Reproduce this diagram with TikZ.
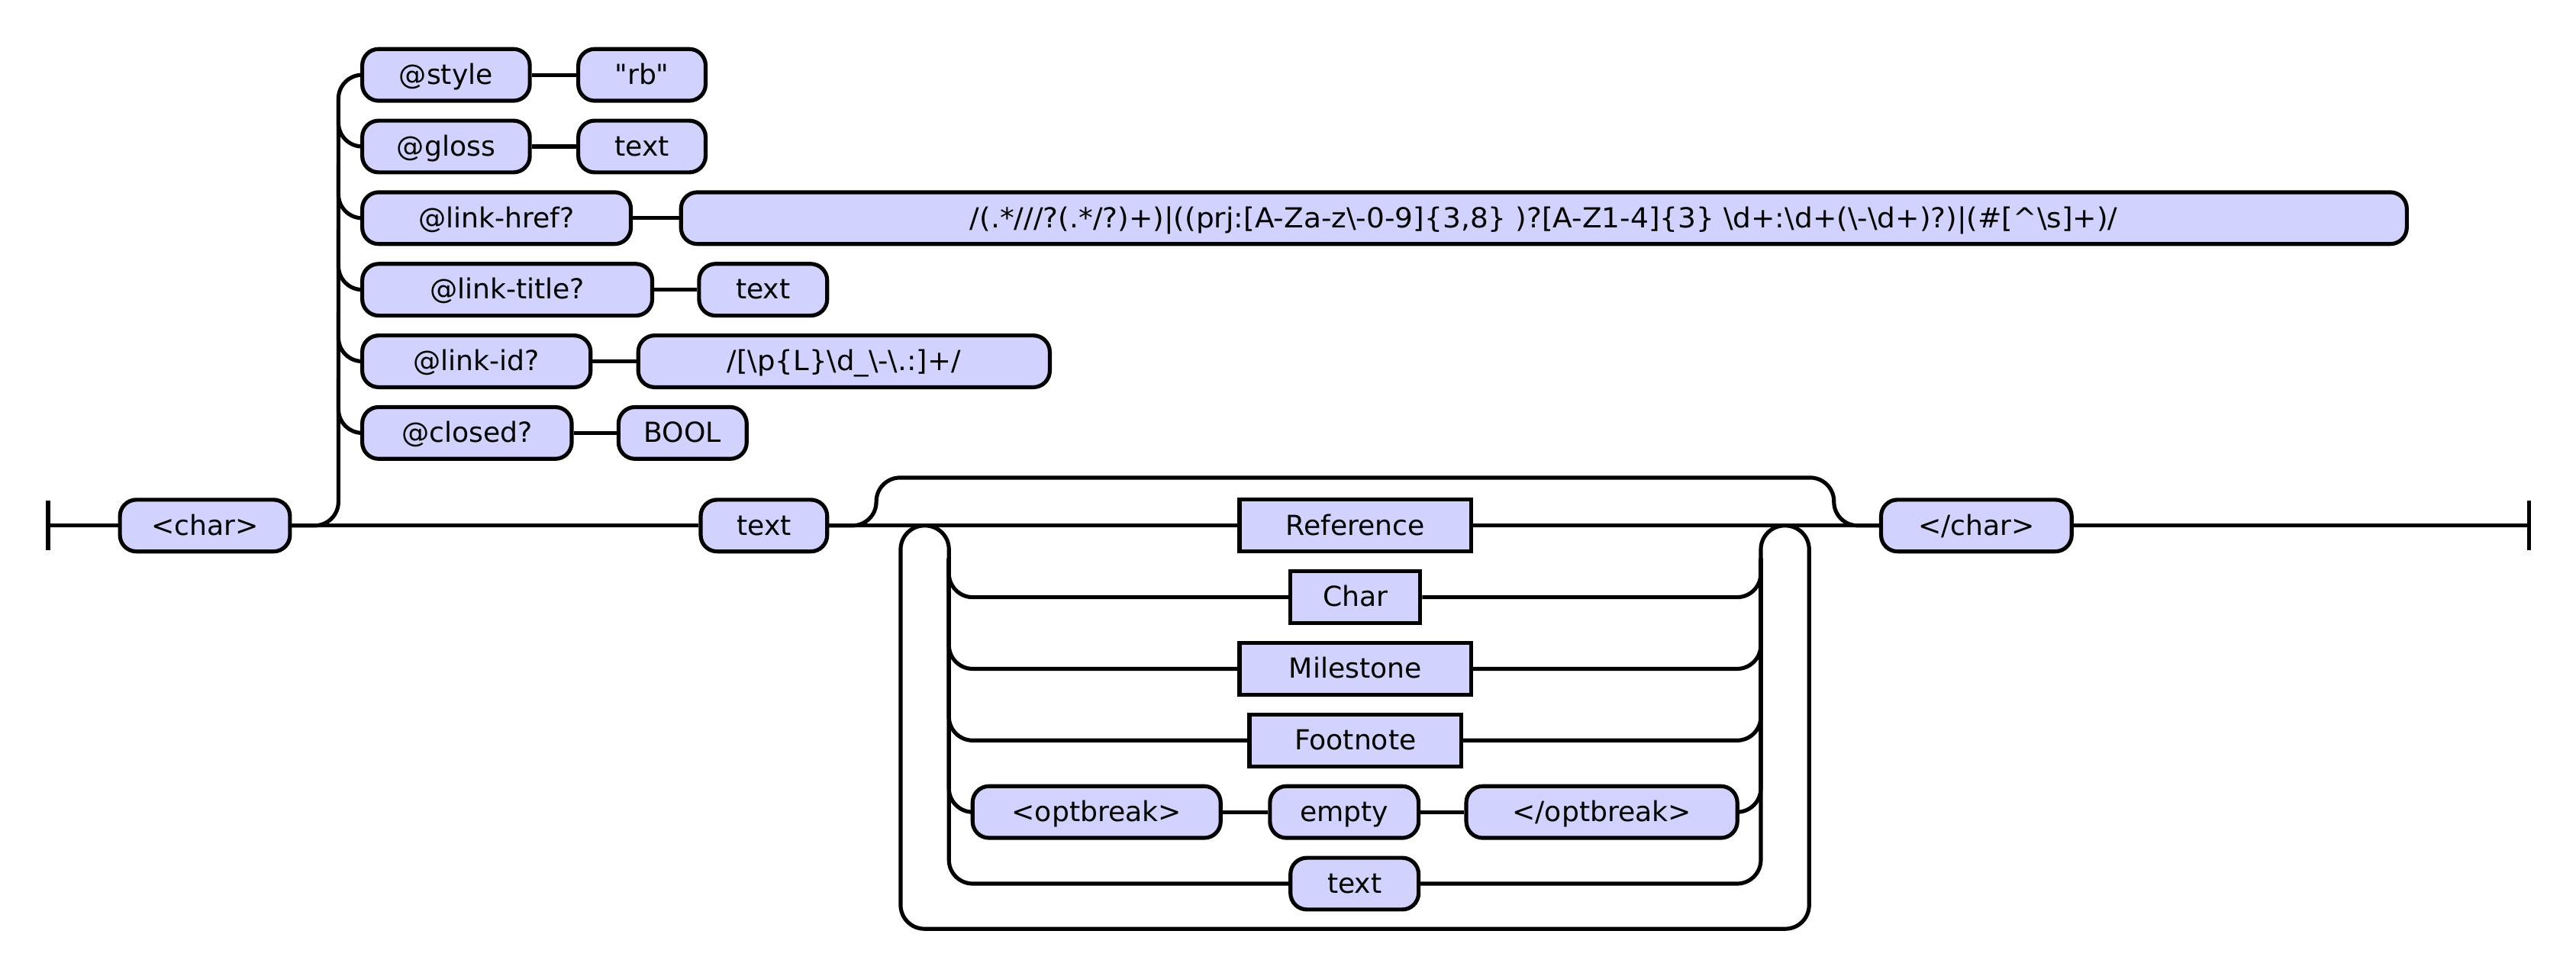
\documentclass[tikz,border=0pt]{standalone}
\usepackage{graphicx}
\usepackage{fontspec}
\newfontfamily\rrfont{DejaVu Sans}
\definecolor{boxfill}{RGB}{210,210,255}
\begin{document}
\begin{tikzpicture}[x=1pt,y=-1pt,
 rail/.style={line width=2.4pt},
 rrbox/.style={draw, line width=2.4pt, fill=boxfill, minimum height=31.5pt, inner sep=0pt, text height=12.3pt, text depth=0.9pt, font=\rrfont\fontsize{16.8}{20}\selectfont},
 term/.style={rrbox, rounded corners=10pt},
 nonterm/.style={rrbox},
 rr/.style={rounded corners=14.5pt}]
\useasboundingbox (0,0) rectangle (1568,593.8);
% coordinates
\coordinate (lb) at (29.3,320);
\coordinate (re) at (1539.3,320);
% nodes: main line
\node[term, minimum width=103.5pt] (char) at (124.75,320) {<char>};
\node[term, minimum width=77pt] (text) at (465,320) {text};
\node[term, minimum width=116pt] (endchar) at (1203,320) {</char>};
% attributes
\node[term, minimum width=102pt] (style) at (271.5,45.6) {@style};
\node[term, minimum width=77.5pt] (rbv) at (390.75,45.6) {"rb"};
\node[term, minimum width=102pt] (gloss) at (271.5,89.2) {@gloss};
\node[term, minimum width=77.5pt] (gtext) at (390.75,89.2) {text};
\node[term, minimum width=163.5pt] (href) at (302.25,132.8) {@link-href?};
\node[term, minimum width=1050.5pt] (hrefval) at (939.75,132.8) {\scalebox{1.037}[1]{/(.*///?(.*/?)+)|((prj:[A-Za-z\textbackslash-0-9]\{3,8\} )?[A-Z1-4]\{3\} \textbackslash d+:\textbackslash d+(\textbackslash-\textbackslash d+)?)|(\#[\textasciicircum\textbackslash s]+)/}};
\node[term, minimum width=176.5pt] (title) at (308.75,176.4) {@link-title?};
\node[term, minimum width=78pt] (ttext) at (464.5,176.4) {text};
\node[term, minimum width=139pt] (lid) at (290,220) {@link-id?};
\node[term, minimum width=250.5pt] (lidval) at (513.75,220) {\scalebox{1.024}[1]{/[\textbackslash p\{L\}\textbackslash d\_\textbackslash-\textbackslash.:]+/}};
\node[term, minimum width=127.5pt] (closed) at (284.25,263.6) {@closed?};
\node[term, minimum width=78pt] (bool) at (415.5,263.6) {BOOL};
% choice
\node[nonterm, minimum width=141pt] (ref) at (825,320) {Reference};
\node[nonterm, minimum width=79pt] (charr) at (825,363.6) {Char};
\node[nonterm, minimum width=141pt] (mile) at (825,407.2) {Milestone};
\node[nonterm, minimum width=129pt] (foot) at (825,450.8) {Footnote};
\node[term, minimum width=151pt] (ob) at (667.5,494.4) {<optbreak>};
\node[term, minimum width=90.5pt] (empty) at (818.25,494.4) {empty};
\node[term, minimum width=165pt] (cob) at (975,494.4) {</optbreak>};
\node[term, minimum width=78pt] (text2) at (824.5,538) {text};
% end bars
\draw[rail] (lb) ++(0,-15) -- ++(0,30);
\draw[rail] (re) ++(0,-15) -- ++(0,30);
% main line
\draw[rail] (lb) -- (char.west);
\draw[rail] (char.east) -- (text.west);
\draw[rail] (text.east) -- (ref.west);
\draw[rail] (ref.east) -- (endchar.west);
\draw[rail] (endchar.east) -- (re);
% attribute branch
\draw[rail,rr] (char.east) -- (206,320) -- (206,45.6) -- (style.west);
\draw[rail,rr] (206,60) -- (206,89.2) -- (gloss.west);
\draw[rail,rr] (206,100) -- (206,132.8) -- (href.west);
\draw[rail,rr] (206,140) -- (206,176.4) -- (title.west);
\draw[rail,rr] (206,190) -- (206,220) -- (lid.west);
\draw[rail,rr] (206,230) -- (206,263.6) -- (closed.west);
\draw[rail] (style.east) -- (rbv.west);
\draw[rail] (gloss.east) -- (gtext.west);
\draw[rail] (href.east) -- (hrefval.west);
\draw[rail] (title.east) -- (ttext.west);
\draw[rail] (lid.east) -- (lidval.west);
\draw[rail] (closed.east) -- (bool.west);
% bypass
\draw[rail,rr] (text.east) -- (533.4,320) -- (533.4,290.8) -- (1116.3,290.8) -- (1116.3,320) -- (endchar.west);
% loop
\draw[rail,rr] (577.6,360) -- (577.6,320) -- (548.2,320) -- (548.2,565.5) -- (1101.2,565.5) -- (1101.2,320) -- (1071.8,320) -- (1071.8,360);
% choice rows
\draw[rail,rr] (577.6,340) -- (577.6,363.6) -- (charr.west);
\draw[rail,rr] (577.6,340) -- (577.6,407.2) -- (mile.west);
\draw[rail,rr] (577.6,340) -- (577.6,450.8) -- (foot.west);
\draw[rail,rr] (577.6,340) -- (577.6,494.4) -- (ob.west);
\draw[rail,rr] (577.6,340) -- (577.6,538) -- (text2.west);
\draw[rail,rr] (charr.east) -- (1071.8,363.6) -- (1071.8,340);
\draw[rail,rr] (mile.east) -- (1071.8,407.2) -- (1071.8,340);
\draw[rail,rr] (foot.east) -- (1071.8,450.8) -- (1071.8,340);
\draw[rail,rr] (cob.east) -- (1071.8,494.4) -- (1071.8,340);
\draw[rail,rr] (text2.east) -- (1071.8,538) -- (1071.8,340);
\draw[rail] (ob.east) -- (empty.west);
\draw[rail] (empty.east) -- (cob.west);
\end{tikzpicture}
\end{document}
